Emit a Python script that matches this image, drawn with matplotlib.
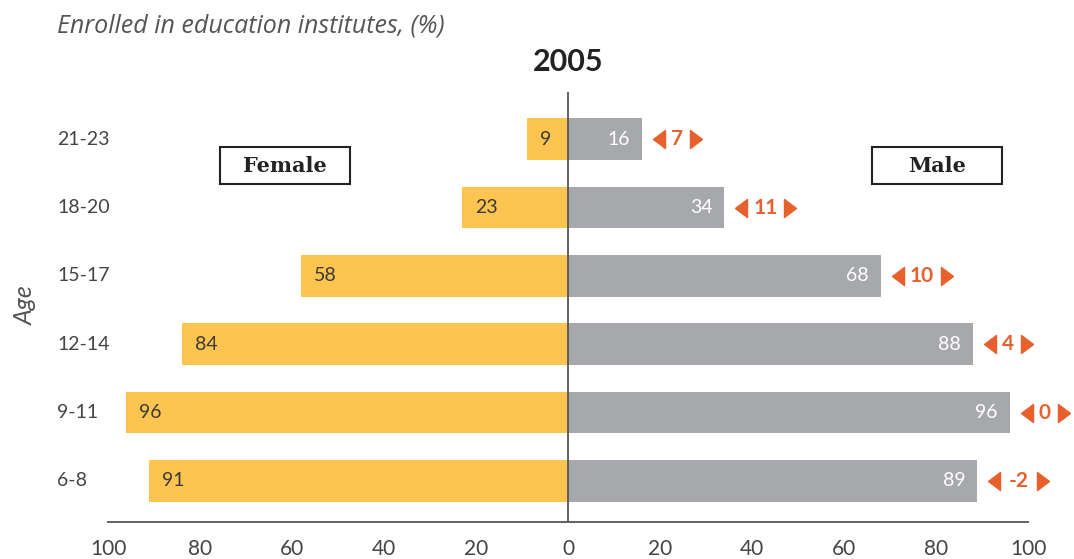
import matplotlib.pyplot as plt
from matplotlib.patches import Rectangle
from matplotlib.transforms import offset_copy, blended_transform_factory

ages = ['6-8', '9-11', '12-14', '15-17', '18-20', '21-23']
female = [91, 96, 84, 58, 23, 9]
male = [89, 96, 88, 68, 34, 16]
gap = [-2, 0, 4, 10, 11, 7]
xticks = [-100, -80, -60, -40, -20, 0, 20, 40, 60, 80, 100]
xticklabels = ['100', '80', '60', '40', '20', '0', '20', '40', '60', '80', '100']

yellow = '#FDC54F'
grey = '#A7A8AB'
orange = '#E8612C'
txt = '#3a3a3a'

plt.rcParams['font.family'] = ['Lato', 'DejaVu Sans']

fig = plt.figure(figsize=(10.74, 5.59), dpi=100)
ax = fig.add_axes([108/1074, 37/559, 920/1074, 430/559])

y = list(range(len(ages)))
ax.barh(y, [-v for v in female], height=0.61, color=yellow)
ax.barh(y, male, height=0.61, color=grey)

ax.set_xlim(-100, 100)
ax.set_ylim(-0.6, 5.69)
for s in ['top', 'right', 'left']:
    ax.spines[s].set_visible(False)
ax.spines['bottom'].set_color('#555555')
ax.spines['bottom'].set_linewidth(1.3)
ax.axvline(0, color='#555555', lw=1.3)
ax.set_yticks([])
ax.set_xticks(xticks)
ax.set_xticklabels(xticklabels, fontsize=15, color='#444444')
ax.tick_params(axis='x', length=0, pad=12)

# age labels, left aligned
tr = blended_transform_factory(fig.transFigure, ax.transData)
for i, a in enumerate(ages):
    ax.text(57/1074, i, a, transform=tr, ha='left', va='center', fontsize=14,
            color='#444444')

def off(dx):
    return offset_copy(ax.transData, fig=fig, x=dx, y=0, units='dots')

tri_l = [(-1, 0), (1, 1.5), (1, -1.5), (-1, 0)]
tri_r = [(1, 0), (-1, 1.5), (-1, -1.5), (1, 0)]

for i in y:
    ax.text(-female[i], i, str(female[i]), transform=off(13), ha='left', va='center',
            fontsize=14, color=txt)
    ax.text(male[i], i, str(male[i]), transform=off(-12), ha='right', va='center',
            fontsize=14, color='white')
    g = str(gap[i])
    n = len(g)
    ax.plot(male[i], i, marker=tri_l, ms=13, color=orange, mec=orange, transform=off(17),
            clip_on=False)
    ax.text(male[i], i, g, transform=off(29 + 6*n), ha='center', va='center',
            fontsize=15, fontweight='bold', color=orange)
    ax.plot(male[i], i, marker=tri_r, ms=13, color=orange, mec=orange,
            transform=off(16 + 2*(13 + 6*n)), clip_on=False)

# Female / Male boxes
for cx, lab in [(285, 'Female'), (937, 'Male')]:
    fig.patches.append(Rectangle(((cx - 65)/1074, 1 - 184/559), 130/1074, 37/559,
                                 transform=fig.transFigure, fc='white', ec='#222222', lw=1.5))
    fig.text(cx/1074, 1 - 166/559, lab, ha='center', va='center', fontsize=15,
             fontweight='bold', family='DejaVu Serif', color='#222222')

fig.text(57/1074, 1 - 26/559, 'Enrolled in education institutes, (%)', ha='left', va='center',
         fontsize=18, style='italic', family=['Open Sans', 'DejaVu Sans'],
         color='#555555')
fig.text(568/1074, 1 - 62/559, '2005', ha='center', va='center', fontsize=22,
         fontweight='bold', color='#222222')
fig.text(25/1074, 1 - 305/559, 'Age', ha='center', va='center', rotation=90, fontsize=18,
         style='italic', color='#555555')

fig.savefig('out.png', dpi=100)
